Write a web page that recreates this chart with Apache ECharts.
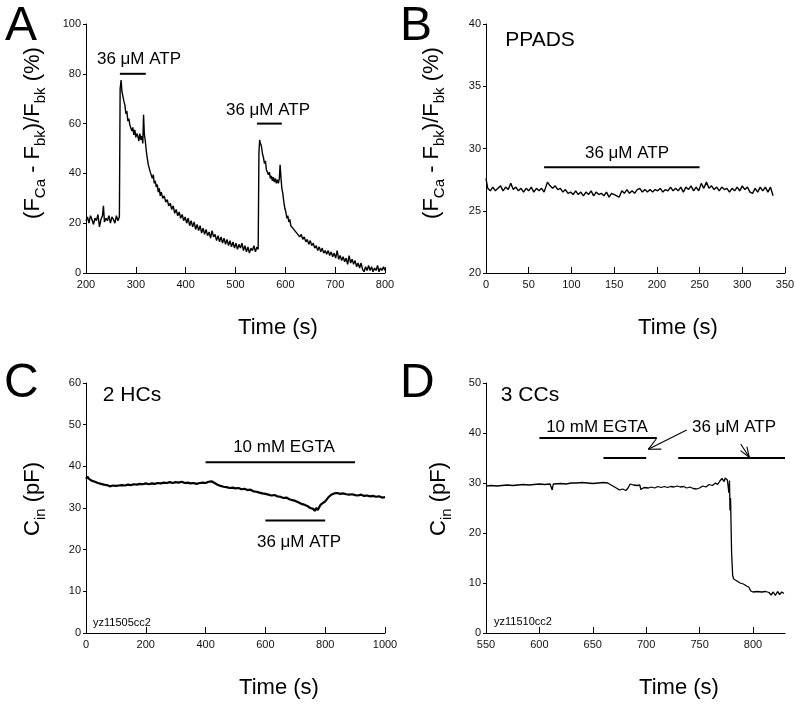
<!DOCTYPE html>
<html><head><meta charset="utf-8">
<script src="https://cdn.jsdelivr.net/npm/echarts@6/dist/echarts.min.js"></script>
<style>html,body{margin:0;padding:0;background:#fff}#c{width:800px;height:705px}</style>
</head><body><div id="c"></div>
<script>
const FONT = '"Liberation Sans", Arial, Helvetica, sans-serif';

// ---- Panel A: (F_Ca - F_bk)/F_bk (%) vs time (s)
const traceA = [[200,21],[203,22.5],[206,20],[209,23],[212,21.5],[215,19.5],[218,22],[221,21],[224,23.5],[227,18.5],[230,21.5],[233,23],[235,27],[237,20.5],[240,22],[243,21],[246,23],[249,20],[252,22.5],[255,21.5],[258,20],[261,23],[264,21],[267,22.5],
[268.5,74],[270.5,77.5],[272,73],[274,72.5],[276,69],[278,67.5],[280,64],[282,65],[284,61],[286,62],[288,59.5],[290,60],[292,57],[294,58.5],[296,55.5],[298,57.5],[300,54.5],[302,56],[304,55],[306,53],[308,56],[310,53.5],[312,55],[314,52],[315.5,63.5],[317,56],[319,53],[321,49],[323,46],[325,43.5],[327,44],[329,40.5],[331,41],[333,38],[335,39.5],[337,36],[339,37],[341,34.5],[343,35.5],[345,32.5],[347,34],[349,31],[351,32.5],[354,30],[357,31],[360,28.5],[363,29.5],[366,27],[369,28],[372,25.5],[375,27],[378,24],[381,25.5],[384,23],[387,24.5],[390,22],[393,23.5],[396,21],[399,22.5],[402,20],[405,22],[408,19],[411,21],[414,18.5],[417,20.5],[420,17.5],[423,19.5],[426,17],[429,19],[432,16],[435,18],[438,15.5],[441,17.5],[444,15],[447,16.5],[450,14],[453,17],[456,14.5],[459,15.5],[462,13],[465,15],[468,12.5],[471,14.5],[474,12],[477,14],[480,11.5],[483,13.5],[486,11],[489,13],[492,10.5],[495,12.5],[498,10],[501,12],[504,9.5],[507,11.5],[510,10],[513,12],[516,9],[519,11],[522,8.5],[525,10.5],[528,8],[531,10],[534,9],[537,11],[540,8.5],[543,10.5],[545.5,9.5],
[547,48],[548.5,53.5],[550,52],[552,51],[554,48],[556,46.5],[558,44],[560,45],[562,41.5],[564,42],[566,39.5],[568,40.5],[570,38],[572,39],[574,37],[576,38.5],[578,36.5],[580,38],[582,36],[584,37.5],[586,36],[588,38],[589.5,43.5],[591,39],[593,34],[595,32],[597,28.5],[599,26],[601,24.5],[603,22],[605,23],[607,20.5],[609,21.5],[611,19],[614,19.5],[617,17.5],[620,18],[623,16],[626,16.5],[629,14.5],[632,15.5],[635,13.5],[638,14.5],[641,12.5],[644,13.5],[647,11.5],[650,13],[653,11],[656,12],[659,10],[662,11],[665,9],[668,10.5],[671,8.5],[674,10],[677,8],[680,9],[683,7.5],[686,9],[689,7],[692,8.5],[695,6.5],[698,8],[701,6],[704,9],[707,5.5],[710,7],[713,5],[716,6.5],[719,4.5],[722,6],[725,3.5],[728,7],[731,4],[734,5.5],[737,3.5],[740,5],[743,2.5],[746,4],[749,2],[752,4],[755,1.5],[758,0.5],[761,2.5],[764,1],[767,3],[770,1],[773,2.5],[776,0.5],[779,2],[782,1],[785,3],[788,0.5],[791,2],[794,1],[797,2.5],[800,1]];
const barsA = [[268,320,80],[543,593,60]]; // [start, end, level]

// ---- Panel B: PPADS
const traceB = [[0,27.6],[2,26.8],[5,26.6],[8,26.9],[11,26.6],[14,26.8],[17,27.0],[20,26.6],[23,26.9],[26,26.7],[29,27.2],[32,26.7],[35,26.9],[38,26.6],[41,26.8],[44,26.5],[47,26.8],[50,26.6],[53,26.9],[56,26.5],[59,26.8],[62,26.6],[65,26.8],[68,26.5],[70,26.6],[72,27.3],[75,27.0],[78,26.8],[81,27.0],[84,26.7],[87,26.8],[90,26.5],[93,26.7],[96,26.4],[99,26.5],[102,26.3],[105,26.6],[108,26.3],[111,26.5],[114,26.2],[117,26.5],[120,26.3],[123,26.6],[126,26.2],[129,26.5],[132,26.3],[135,26.4],[138,26.2],[141,26.5],[144,26.1],[147,26.4],[150,26.3],[153,26.2],[156,26.1],[159,26.6],[162,26.4],[165,26.7],[168,26.4],[171,26.6],[174,26.4],[177,26.7],[180,26.8],[183,26.5],[186,26.7],[189,26.5],[192,26.7],[195,26.5],[198,26.7],[201,26.6],[204,26.8],[207,26.5],[210,26.7],[213,26.6],[216,26.9],[219,26.6],[222,26.8],[225,26.6],[228,26.9],[231,26.5],[234,26.9],[237,26.7],[240,27.0],[243,26.6],[246,26.9],[249,26.6],[252,27.2],[255,26.8],[258,27.3],[261,26.8],[264,27.0],[267,26.7],[270,26.9],[273,26.6],[276,26.9],[279,26.7],[282,26.8],[285,26.5],[288,26.8],[291,26.6],[294,26.9],[297,26.6],[300,27.0],[303,26.7],[306,26.9],[309,26.5],[312,26.4],[315,26.8],[318,26.5],[321,26.9],[324,26.6],[327,26.9],[330,26.5],[333,26.9],[336,26.2]];
const barsB = [[68,250,28.5]];

// ---- Panel C: 2 HCs, C_in (pF)
const traceC = [[0,37.0],[5,37.5],[10,37.0],[20,36.5],[30,36.3],[40,36.0],[50,35.8],[60,35.6],[70,35.5],[80,35.2],[90,35.4],[100,35.3],[110,35.4],[120,35.5],[130,35.4],[140,35.6],[150,35.5],[160,35.7],[170,35.6],[180,35.8],[190,35.7],[200,35.9],[210,35.7],[220,35.9],[230,35.8],[240,36.0],[250,35.9],[260,36.1],[270,36.0],[280,36.2],[290,36.0],[300,36.2],[310,36.1],[320,36.3],[330,36.0],[340,36.1],[350,35.9],[360,36.0],[370,35.8],[380,36.0],[390,36.1],[400,36.0],[410,36.3],[420,36.4],[430,36.0],[440,35.6],[450,35.3],[460,35.1],[470,35.0],[480,34.8],[490,34.9],[500,34.7],[510,34.8],[520,34.5],[530,34.6],[540,34.3],[550,34.4],[560,34.0],[570,33.9],[580,33.7],[590,33.5],[600,33.4],[610,33.2],[620,33.0],[630,33.1],[640,32.8],[650,32.7],[660,32.4],[670,32.5],[680,32.1],[690,31.9],[700,31.7],[710,31.4],[720,31.0],[730,30.8],[740,30.5],[750,30.0],[760,29.8],[765,29.3],[770,30.0],[775,29.5],[780,30.2],[785,30.8],[790,31.2],[800,31.6],[810,32.5],[820,33.2],[830,33.5],[840,33.6],[850,33.4],[860,33.5],[870,33.3],[880,33.2],[890,33.3],[900,33.1],[910,33.0],[920,33.2],[930,32.9],[940,33.0],[950,32.8],[960,32.9],[970,32.7],[980,32.8],[990,32.5],[1000,32.6]];
const barsC = [[400,900,41],[600,800,27]];

// ---- Panel D: 3 CCs, C_in (pF)
const traceD = [[550,29.4],[555,29.5],[560,29.4],[565,29.5],[570,29.6],[575,29.5],[580,29.6],[585,29.7],[590,29.6],[595,29.7],[600,29.8],[605,29.7],[610,29.8],[612,28.6],[613,29.8],[620,29.9],[625,29.8],[630,30.0],[635,30.0],[640,30.1],[645,30.0],[650,29.9],[655,30.0],[660,30.1],[664,30.0],[668,29.5],[672,29.0],[675,28.6],[678,28.8],[681,28.5],[683,29.0],[685,29.8],[688,29.6],[692,29.5],[694,29.6],[695,28.7],[698,29.1],[702,29.0],[705,29.2],[708,29.0],[711,29.3],[714,29.1],[717,29.3],[720,29.1],[723,29.3],[726,29.2],[729,29.4],[732,29.2],[735,29.3],[738,29.0],[741,29.2],[744,28.9],[747,28.8],[750,29.0],[753,29.4],[756,29.2],[759,29.7],[762,29.5],[765,30.0],[767,29.7],[769,30.4],[771,30.9],[773,30.3],[774,31.0],[776,30.6],[777,30.9],[777.5,28],[778,30.5],[778.5,24.5],[779,27],[780,16.0],[781,11.5],[782,10.8],[785,10.4],[788,10.0],[791,9.8],[794,9.4],[796,9.2],[798,8.4],[800,8.2],[804,8.3],[808,8.2],[812,8.3],[815,8.1],[817,7.6],[819,8.2],[821,7.5],[823,8.3],[825,7.7],[827,8.2],[829,7.9]];
const barsD = [[600,710,39],[660,700,35],[730,830,35]];

// tick settings
const xTicksA = {min:200, max:800, interval:100};
const xTicksB = {min:0, max:350, interval:50};
const xTicksC = {min:0, max:1000, interval:200};
const xTicksD = {min:550, max:830, interval:50};
const yTicksA = {min:0, max:100, interval:20};
const yTicksB = {min:20, max:40, interval:5};
const yTicksC = {min:0, max:60, interval:10};
const yTicksD = {min:0, max:50, interval:10};

const grids = [
  {left:86, top:24, width:299, height:249},
  {left:486, top:24, width:299, height:249},
  {left:86, top:383, width:299, height:250},
  {left:486, top:383, width:299, height:250}
];

function xAx(gi, t, extraLabel) {
  return {type:'value', gridIndex:gi, min:t.min, max:t.max, interval:t.interval,
    axisLine:{show:true, onZero:false, lineStyle:{color:'#000', width:1}},
    axisTick:{show:true, inside:true, length:6, lineStyle:{color:'#000'}},
    axisLabel:Object.assign({color:'#111', fontSize:11, fontFamily:FONT, margin:6, formatter: v => String(v)}, extraLabel||{}),
    splitLine:{show:false}};
}
function yAx(gi, t) {
  return {type:'value', gridIndex:gi, min:t.min, max:t.max, interval:t.interval,
    axisLine:{show:true, onZero:false, lineStyle:{color:'#000', width:1}},
    axisTick:{show:true, inside:false, length:3, lineStyle:{color:'#000'}},
    axisLabel:{color:'#111', fontSize:11, fontFamily:FONT, margin:5, formatter: v => String(v)},
    splitLine:{show:false}};
}

const series = [];
function addTrace(i, data, w) {
  series.push({type:'line', xAxisIndex:i, yAxisIndex:i, data:data, showSymbol:false, silent:true,
    lineStyle:{color:'#000', width:w}, animation:false});
}
function addBars(i, bars) {
  bars.forEach(b => series.push({type:'line', xAxisIndex:i, yAxisIndex:i, data:[[b[0],b[2]],[b[1],b[2]]],
    showSymbol:false, silent:true, lineStyle:{color:'#000', width:2}, animation:false}));
}
addTrace(0, traceA, 1.4); addBars(0, barsA);
addTrace(1, traceB, 1.4); addBars(1, barsB);
addTrace(2, traceC, 2.2); addBars(2, barsC);
addTrace(3, traceD, 1.3); addBars(3, barsD);

function txt(s, x, y, size, align, extra) {
  return Object.assign({type:'text', x:x, y:y, silent:true, style:{text:s, x:0, y:0, fontSize:size, fontFamily:FONT,
    fill:'#000', textFill:'#000', align:align||'center', textAlign:align||'center', verticalAlign:'middle', textVerticalAlign:'middle'}}, extra||{});
}
function richTitle(parts, x, y) {
  return {type:'text', x:x, y:y, rotation:Math.PI/2, silent:true,
    style:{text:parts, x:0, y:0, align:'center', textAlign:'center', verticalAlign:'middle', textVerticalAlign:'middle',
      fontFamily:FONT, fill:'#000', textFill:'#000',
      rich:{m:{fontSize:22, lineHeight:30, fontFamily:FONT, fill:'#000', textFill:'#000'},
            s:{fontSize:15, verticalAlign:'bottom', textVerticalAlign:'bottom', fontFamily:FONT, fill:'#000', textFill:'#000'}}}};
}
function arrow(x1,y1,x2,y2,len,ang) {
  const a = Math.atan2(y1-y2, x1-x2);
  const els = [{type:'line', silent:true, shape:{x1:x1,y1:y1,x2:x2,y2:y2}, style:{stroke:'#000', lineWidth:1.1}}];
  [-1,1].forEach(s => { const b = a + s*ang;
    els.push({type:'line', silent:true, shape:{x1:x2,y1:y2,x2:x2+len*Math.cos(b),y2:y2+len*Math.sin(b)}, style:{stroke:'#000', lineWidth:1.1}}); });
  return els;
}

const yTitleF = '{m|(F}{s|Ca}{m| - F}{s|bk}{m|)/F}{s|bk}{m| (%)}';
const yTitleC = '{m|C}{s|in}{m| (pF)}';

const graphic = [
  txt('A', 5, 27, 48, 'left'), txt('B', 400, 27, 48, 'left'),
  txt('C', 4, 384, 48, 'left'), txt('D', 400, 384, 48, 'left'),
  txt('36 \u03bcM ATP', 139, 59, 17), txt('36 \u03bcM ATP', 268, 110, 17),
  txt('PPADS', 540, 40, 21), txt('36 \u03bcM ATP', 627, 153, 17),
  txt('2 HCs', 132, 395, 21), txt('10 mM EGTA', 284, 447, 17), txt('36 \u03bcM ATP', 299, 542, 17),
  txt('yz11505cc2', 93, 623, 11, 'left'),
  txt('3 CCs', 530, 395, 21), txt('10 mM EGTA', 597, 427, 17), txt('36 \u03bcM ATP', 734, 427, 17),
  txt('yz11510cc2', 494, 622, 11, 'left'),
  txt('Time (s)', 278, 328, 22), txt('Time (s)', 678, 328, 22),
  txt('Time (s)', 279, 688, 22), txt('Time (s)', 679, 688, 22),
  richTitle(yTitleF, 33, 133), richTitle(yTitleF, 432, 133),
  richTitle(yTitleC, 33, 499), richTitle(yTitleC, 439, 499)
].concat(arrow(686.7,430,648.3,449.3,13,0.45), arrow(740.7,444,749.3,457.3,11,0.35));

const chart = echarts.init(document.getElementById('c'), null, {renderer:'canvas'});
chart.setOption({
  animation:false,
  backgroundColor:'#fff',
  grid:grids,
  xAxis:[xAx(0,xTicksA), xAx(1,xTicksB), xAx(2,xTicksC), xAx(3,xTicksD,{showMaxLabel:false})],
  yAxis:[yAx(0,yTicksA), yAx(1,yTicksB), yAx(2,yTicksC), yAx(3,yTicksD)],
  series:series,
  graphic:graphic
});
</script></body></html>
